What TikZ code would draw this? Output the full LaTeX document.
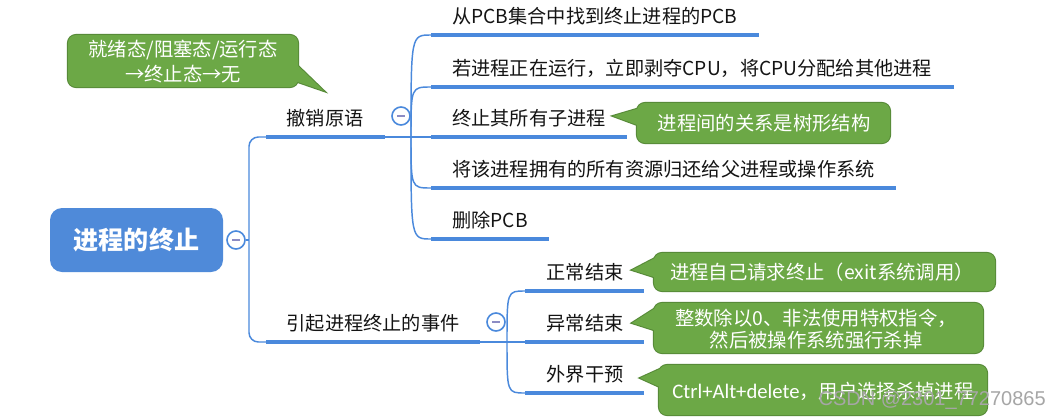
\documentclass[tikz,border=0pt]{standalone}
\usepackage{fontspec}
\newfontfamily\cjk{Noto Sans CJK SC}
\newfontfamily\wmfont{Liberation Sans}
\newfontfamily\carlito{Carlito}
\definecolor{lineblue}{HTML}{4A89DC}
\definecolor{rootblue}{HTML}{4F8AD9}
\definecolor{cfill}{HTML}{6CA846}
\definecolor{cborder}{HTML}{578A38}
\definecolor{minusc}{HTML}{8C8CC4}
\definecolor{wmgray}{HTML}{A6A6A6}
\newcommand\mycallout[2]{%
  \draw[cborder, line width=1.6pt] #1; \draw[cborder, line width=1.6pt] #2;
  \fill[cfill] #1; \fill[cfill] #2;}
\begin{document}
\begin{tikzpicture}[x=0.75pt,y=-0.75pt,
  lbl/.style={font=\cjk\fontsize{14.4}{18}\selectfont, text=black!92, inner sep=0pt},
  ctext/.style={font=\cjk\fontsize{14.5}{16.5}\selectfont, text=white, align=center, inner sep=0pt},
  uline/.style={draw=lineblue, line width=3pt},
  thinl/.style={draw=lineblue, line width=1.1pt},
  circ/.style={circle, draw=lineblue, fill=white, line width=1.2pt, minimum size=13.5pt, inner sep=0pt,
    path picture={\draw[minusc, line width=1.2pt] ([xshift=-2.7pt]path picture bounding box.center) -- ([xshift=2.7pt]path picture bounding box.center);}},
  rootbox/.style={fill=rootblue, rounded corners=9pt, minimum width=129.75pt, minimum height=48pt, inner sep=0pt,
    text=white, font=\cjk\bfseries\fontsize{18.8}{22}\selectfont}
]
\fill[white] (0,0) rectangle (1048,418);
\useasboundingbox (0,0) rectangle (1048,418);

% root
\node[rootbox] (root) at (136.5,240) {进程的终止};
\node[circ] (c0) at (236,240) {};
\coordinate (v0) at (249,240);
\draw[thinl] (c0.east) -- (v0);

% level 1
\node[lbl, anchor=center] (p1) at (325,118) {撤销原语};
\node[lbl, anchor=center] (p2) at (373,323) {引起进程终止的事件};
\coordinate (p1s) at (266,137); \coordinate (p1e) at (385,137);
\coordinate (p2s) at (266,342); \coordinate (p2e) at (480,342);
\draw[thinl, rounded corners=7pt] (p1s) -- (249,137) -- (249,342) -- (p2s);
\draw[uline] (p1s) -- (p1e);
\draw[uline] (p2s) -- (p2e);
\node[circ] (c1) at (401,116) {};
\node[circ] (c2) at (496,322) {};

% children of p1
\coordinate (j1) at (411,137);
\foreach \i/\y/\t in {1/35/{从PCB集合中找到终止进程的PCB},
                      2/87/{若进程正在运行，立即剥夺CPU，将CPU分配给其他进程},
                      3/137/{终止其所有子进程},
                      4/188/{将该进程拥有的所有资源归还给父进程或操作系统},
                      5/239/{删除PCB}}{
  \node[lbl, anchor=west] (k\i) at (452,\y-19) {\t};
  \coordinate (ks\i) at (431,\y);
  \draw[uline] (ks\i) -- (k\i.east |- ks\i) -- ++(16pt,0);
  \draw[thinl] (j1) .. controls (411,\y) .. (ks\i);
}
\draw[thinl] (p1e) -- (ks3);

% children of p2
\coordinate (j2) at (507,342);
\foreach \i/\y/\t in {1/291/{正常结束}, 2/342/{异常结束}, 3/393/{外界干预}}{
  \node[lbl, anchor=center] (m\i) at (585,\y-19) {\t};
  \coordinate (ms\i) at (525,\y);
  \coordinate (me\i) at (644,\y);
  \draw[uline] (ms\i) -- (me\i);
  \draw[thinl] (j2) .. controls (507,\y) .. (ms\i);
}
\draw[thinl] (p2e) -- (ms2);

% callouts
\mycallout{[rounded corners=6pt] (68,35) rectangle (298,87)}{(296,64) -- (324,91) -- (295,81) -- cycle}
\node[ctext, font=\cjk\fontsize{14.5}{18.75}\selectfont] (t1) at (183,62) {就绪态/阻塞态/运行态\\→终止态→无};

\mycallout{[rounded corners=6pt] (637,103) rectangle (890,143)}{(640,108) -- (613,116) -- (640,126) -- cycle}
\node[ctext] (t2) at (764,123) {进程间的关系是树形结构};

\mycallout{[rounded corners=6pt] (654,253) rectangle (995,291)}{(657,257) -- (632,270) -- (657,278) -- cycle}
\node[ctext] (t3) at (822,272) {进程自己请求终止（exit系统调用）};

\mycallout{[rounded corners=6pt] (654,303) rectangle (983,353)}{(657,307) -- (632,323) -- (657,331) -- cycle}
\node[ctext] (t4) at (816,329) {整数除以0、非法使用特权指令，\\然后被操作系统强行杀掉};

\mycallout{[rounded corners=6pt] (659,365) rectangle (987,415)}{(662,368) -- (640,378) -- (662,388) -- cycle}
\node[ctext] (t5) at (823,391) {{\carlito\fontsize{15.5}{16.5}\selectfont Ctrl+Alt+delete}，用户选择杀掉进程};

% watermark
\node[font=\wmfont\fontsize{15}{18}\selectfont, text=wmgray, anchor=east, inner sep=0pt] (wm) at (1046,400) {CSDN @2301\_77270865};
\end{tikzpicture}
\end{document}
